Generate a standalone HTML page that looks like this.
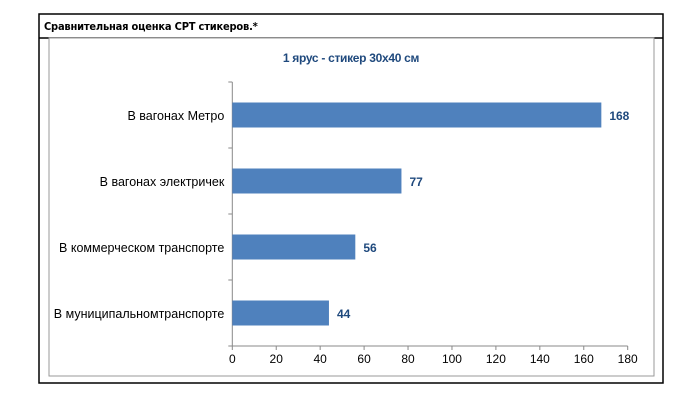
<!DOCTYPE html>
<html><head><meta charset="utf-8"><style>
body{margin:0;background:#fff;width:700px;height:400px;overflow:hidden;font-family:"Liberation Sans",sans-serif}
</style></head><body>
<svg width="700" height="400" xmlns="http://www.w3.org/2000/svg">
<rect x="39" y="14" width="624" height="369" fill="#fff" stroke="#000" stroke-width="1.5"/>
<line x1="39" y1="38" x2="663" y2="38" stroke="#000" stroke-width="1.5"/>
<text x="44" y="30" font-size="11" font-weight="bold" font-family="'DejaVu Sans Condensed','Liberation Sans',sans-serif" letter-spacing="-0.2">Сравнительная оценка СРТ стикеров.*</text>
<rect x="49" y="38" width="605" height="338" fill="#fff" stroke="#999" stroke-width="1"/>
<text x="351" y="62" text-anchor="middle" font-size="12" font-weight="bold" fill="#1f497d" letter-spacing="-0.3">1 ярус - стикер 30x40 см</text>
<g id="plot"></g>
</svg>
<script>
const categories=["В вагонах Метро","В вагонах электричек","В коммерческом транспорте","В муниципальномтранспорте"];
const values=[168,77,56,44];
const ticks=[0,20,40,60,80,100,120,140,160,180];
const x0=232.3,x1=627.7,yTop=82,yBot=346,vmax=180;
const X=v=>x0+(v/vmax)*(x1-x0);
const band=(yBot-yTop)/categories.length;
const NS="http://www.w3.org/2000/svg";
const g=document.getElementById('plot');
function mk(t,a){const e=document.createElementNS(NS,t);for(const k in a)e.setAttribute(k,a[k]);g.appendChild(e);return e;}
let e=mk('line',{x1:x0,y1:yTop,x2:x0,y2:yBot,stroke:'#888'});


e=mk('line',{x1:x0,y1:yBot,x2:x1,y2:yBot,stroke:'#888'});


for(let i=0;i<=categories.length;i++){
  const y=yTop+i*band;
  e=mk('line',{x1:x0-4,y1:y,x2:x0,y2:y,stroke:'#888'});
  
  
}
ticks.forEach(t=>{
  const x=X(t);
  e=mk('line',{x1:x,y1:yBot,x2:x,y2:yBot+4,stroke:'#888'});
  
  
  e=mk('text',{x:x,y:yBot+17,'text-anchor':'middle','font-size':12,fill:'#000'});
  e.textContent=t;
  
  
});
categories.forEach((c,i)=>{
  const cy=yTop+band*(i+0.5);
  const bh=25;
  e=mk('rect',{x:x0,y:cy-bh/2,width:X(values[i])-x0,height:bh,fill:'#4f81bd'});
  
  
  e=mk('text',{x:X(values[i])+8,y:cy+5,'font-size':12,'font-weight':'bold',fill:'#1f497d'});
  e.textContent=values[i];
  
  
  e=mk('text',{x:x0-8,y:cy+5,'text-anchor':'end','font-size':12.5,fill:'#000'});
  e.textContent=c;
  
  
});
</script>
</body></html>
